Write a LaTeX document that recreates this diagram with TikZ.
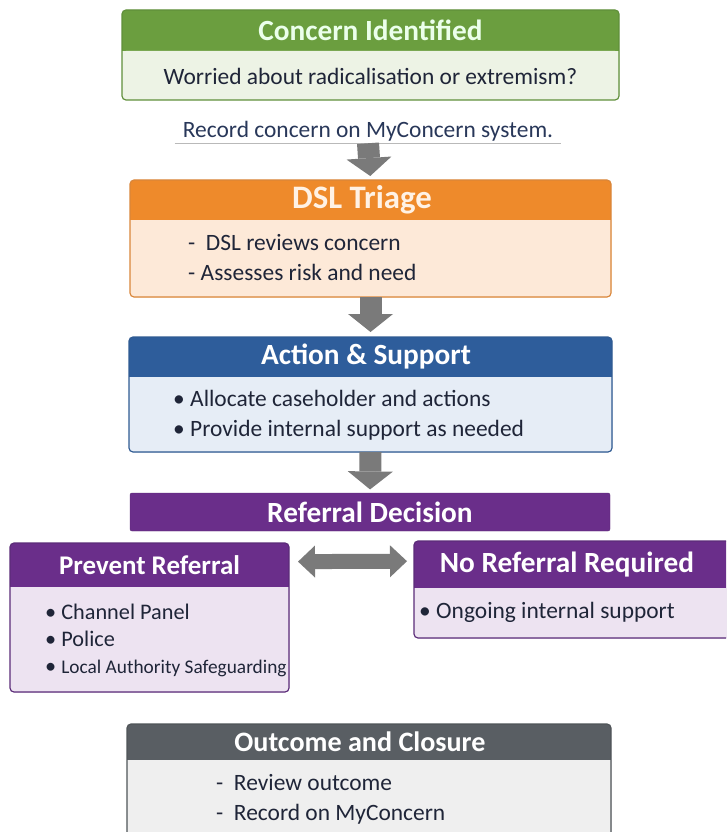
\documentclass[tikz,border=0pt]{standalone}
\usepackage{fontspec}
\setmainfont{Carlito}
\usetikzlibrary{arrows.meta}

\definecolor{greenhead}{HTML}{6B9E3F}
\definecolor{greenbody}{HTML}{EDF3E5}
\definecolor{greenline}{HTML}{5F8F3A}
\definecolor{orangehead}{HTML}{EE8A2B}
\definecolor{orangebody}{HTML}{FDE9D8}
\definecolor{orangeline}{HTML}{D9863A}
\definecolor{bluehead}{HTML}{2E5D9B}
\definecolor{bluebody}{HTML}{E6EDF6}
\definecolor{blueline}{HTML}{2F5A92}
\definecolor{purplehead}{HTML}{6A2E8A}
\definecolor{purplebody}{HTML}{EDE3F1}
\definecolor{purpleline}{HTML}{5B2B78}
\definecolor{grayhead}{HTML}{595E63}
\definecolor{graybody}{HTML}{EFEFEF}
\definecolor{grayline}{HTML}{4F5458}
\definecolor{arrowgray}{HTML}{7A7A7A}
\definecolor{ink}{HTML}{1F2538}
\definecolor{navy}{HTML}{283759}

% one card: header band and body, squared where they meet
\newcommand\flowcard[7]{%
  \fill[#2head, rounded corners=1.2mm] (#3,#4) rectangle (#5,#7);
  \fill[#2body, rounded corners=1.2mm] (#3,#6) rectangle (#5,#7);
  \fill[#2body] (#3,#6) rectangle (#5,#6+8);
  \draw[#2line, line width=1pt, rounded corners=1.2mm] (#3,#4) rectangle (#5,#7);
  \coordinate (#1-n) at ({(#3+#5)/2},#4);
  \coordinate (#1-s) at ({(#3+#5)/2},#7);
  \coordinate (#1-w) at (#3,{(#4+#6)/2});
  \coordinate (#1-e) at (#5,{(#4+#6)/2});
}

\tikzset{
  headtext/.style={text=white, font=\bfseries\fontsize{25}{30}\selectfont, inner sep=0pt},
  bodytext/.style={text=ink, font=\fontsize{20}{25.6}\selectfont, align=left, inner sep=0pt},
  blockarrow/.style={draw=arrowgray, line width=6.6mm,
    -{Triangle[length=5.4mm, width=13.5mm, line width=0pt]}},
  twoway/.style={draw=arrowgray, line width=4.5mm,
    {Triangle[length=5.1mm, width=9.6mm, line width=0pt]}-{Triangle[length=5.1mm, width=9.6mm, line width=0pt]}},
}

\begin{document}
\begin{tikzpicture}[x=0.3mm, y=-0.3mm]
	\useasboundingbox (0,0) rectangle (726,832);
	\clip (0,0) rectangle (726,832);

	\flowcard{concern}{green}{122}{10}{619}{51}{100}
	\node[headtext, text=green!8] (concernhead) at (370.5,30.5) {Concern Identified};
	\node[bodytext] (worried) at (370.5,76) {Worried about radicalisation or extremism?};

	\node[text=navy, font=\fontsize{20}{24}\selectfont, inner xsep=2.4mm, inner ysep=0.6mm] (record) at (368,131) {Record concern on MyConcern system.};
	\draw[gray!55, line width=1pt] (record.south west) -- (record.south east);

	\flowcard{triage}{orange}{130}{180}{611}{220}{297}
	\node[headtext, text=orange!10, font=\bfseries\fontsize{28}{32}\selectfont] (triagehead) at (362,200) {DSL Triage};
	\node[bodytext, anchor=west] (triagelist) at (188,258) {-~~DSL reviews concern\\- Assesses risk and need};

	\flowcard{action}{blue}{129}{337}{612}{377}{452}
	\node[headtext] (actionhead) at (366,357) {Action \& Support};
	\node[bodytext, anchor=west] (actionlist) at (173,415) {• Allocate caseholder and actions\\• Provide internal support as needed};

	\node[headtext, fill=purplehead, draw=purpleline, rounded corners=0.6mm,
	      minimum width=144mm, minimum height=11.4mm] (decision) at (370,512) {Referral Decision};

	\flowcard{prevent}{purple}{10}{543}{289}{587}{692}
	\node[headtext, font=\bfseries\fontsize{23}{28}\selectfont] (preventhead) at (149.5,565) {Prevent Referral};
	\node[bodytext, anchor=west, font=\fontsize{19}{23}\selectfont] (preventlist) at (45,640)
	  {• Channel Panel\\• Police\\• {\fontsize{16.5}{20}\selectfont Local Authority Safeguarding}};

	\flowcard{noreferral}{purple}{414}{541}{730}{588}{638}
	\node[headtext] (noreferralhead) at (567,564.5) {No Referral Required};
	\node[bodytext, anchor=west] (noreferrallist) at (419,612) {• Ongoing internal support};

	\flowcard{outcome}{gray}{127}{724}{611}{760}{860}
	\node[headtext, font=\bfseries\fontsize{24}{28}\selectfont] (outcomehead) at (360,742) {Outcome and Closure};
	\node[bodytext, anchor=west] (outcomelist) at (216,799) {-~~Review outcome\\-~~Record on MyConcern};

	\draw[blockarrow, shorten >=1.2mm] (record.south) -- (triage-n);
	\draw[blockarrow, shorten >=1.5mm] (triage-s) -- (action-n);
	\draw[blockarrow, shorten >=1mm] (action-s) -- (decision.north);
	\draw[twoway, shorten <=2.7mm, shorten >=2.1mm] ([yshift=1mm]prevent-e) -- ([yshift=1mm]noreferral-w);
\end{tikzpicture}
\end{document}
